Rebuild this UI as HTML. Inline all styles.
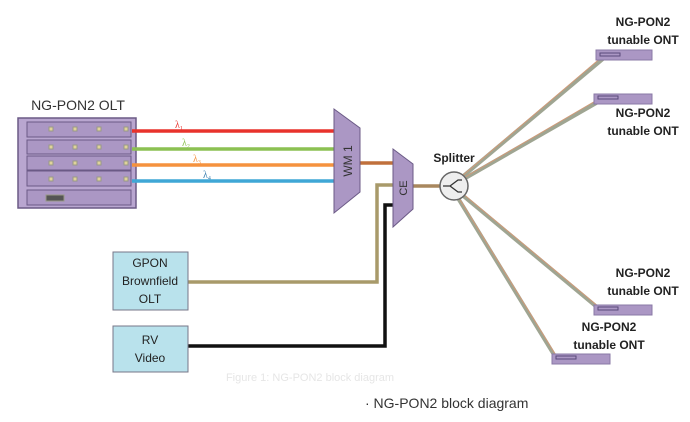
<!DOCTYPE html>
<html><head><style>
body{margin:0;background:#fff;}
svg{display:block;font-family:"Liberation Sans",sans-serif;}
</style></head><body>
<svg width="690" height="422" viewBox="0 0 690 422">
<text x="78" y="110" font-size="14" text-anchor="middle" fill="#333">NG-PON2 OLT</text>
<rect x="18" y="118" width="118" height="90" fill="#b9a6d0" stroke="#6b5a86" stroke-width="1.5"/>
<g fill="#ab97c4" stroke="#6b5a86">
<rect x="27" y="122" width="104" height="15"/>
<rect x="27" y="140" width="104" height="14"/>
<rect x="27" y="156" width="104" height="14"/>
<rect x="27" y="171" width="104" height="15"/>
<rect x="27" y="190" width="104" height="15"/>
</g>
<g fill="#e0d39a" stroke="#998">
<rect x="49" y="127" width="4" height="4"/><rect x="73" y="127" width="4" height="4"/><rect x="97" y="127" width="4" height="4"/><rect x="124" y="127" width="4" height="4"/>
<rect x="49" y="145" width="4" height="4"/><rect x="73" y="145" width="4" height="4"/><rect x="97" y="145" width="4" height="4"/><rect x="124" y="145" width="4" height="4"/>
<rect x="49" y="161" width="4" height="4"/><rect x="73" y="161" width="4" height="4"/><rect x="97" y="161" width="4" height="4"/><rect x="124" y="161" width="4" height="4"/>
<rect x="49" y="177" width="4" height="4"/><rect x="73" y="177" width="4" height="4"/><rect x="97" y="177" width="4" height="4"/><rect x="124" y="177" width="4" height="4"/>
<rect x="46" y="195" width="18" height="6" fill="#555"/>
</g>
<g stroke-width="3.5">
<line x1="132" y1="131" x2="334" y2="131" stroke="#e8322c"/>
<line x1="132" y1="149" x2="334" y2="149" stroke="#8cc152"/>
<line x1="132" y1="165" x2="334" y2="165" stroke="#f5923e"/>
<line x1="132" y1="181" x2="334" y2="181" stroke="#3fa7d6"/>
</g>
<g font-size="10" font-family="Liberation Serif,serif">
<text x="175" y="128" fill="#e8322c">λ<tspan font-size="6" dy="2">1</tspan></text>
<text x="182" y="146" fill="#8cc152">λ<tspan font-size="6" dy="2">2</tspan></text>
<text x="193" y="162" fill="#f5923e">λ<tspan font-size="6" dy="2">3</tspan></text>
<text x="203" y="178" fill="#3a7fb0">λ<tspan font-size="6" dy="2">4</tspan></text>
</g>
<line x1="360" y1="163" x2="394" y2="163" stroke="#c0703c" stroke-width="3.5"/>
<polyline points="188,282 377,282 377,185 394,185" fill="none" stroke="#a89a6a" stroke-width="3.5"/>
<polyline points="188,346 385,346 385,205 394,205" fill="none" stroke="#111" stroke-width="3.5"/>
<line x1="413" y1="186" x2="441" y2="186" stroke="#a8875e" stroke-width="3.5"/>
<polygon points="334,109 360,128 360,192 334,213" fill="#ab97c4" stroke="#6b5a86"/>
<text transform="translate(352,161) rotate(-90)" font-size="12" text-anchor="middle" fill="#333">WM 1</text>
<polygon points="393,149 413,164 413,209 393,227" fill="#ab97c4" stroke="#6b5a86"/>
<text transform="translate(407,188) rotate(-90)" font-size="11" text-anchor="middle" fill="#333">CE</text>
<g stroke="#9fa592" stroke-width="4" fill="none">
<line x1="455" y1="183" x2="604" y2="58"/>
<line x1="455" y1="184" x2="598" y2="102"/>
<line x1="455" y1="189" x2="598" y2="308"/>
<line x1="453" y1="190" x2="556" y2="358"/>
</g>
<g stroke="#d09a78" stroke-width="1" fill="none">
<line x1="455" y1="182" x2="603" y2="56"/>
<line x1="455" y1="183" x2="597" y2="100"/>
<line x1="456" y1="188" x2="599" y2="307"/>
<line x1="454" y1="190" x2="557" y2="357"/>
</g>
<circle cx="454" cy="186" r="14" fill="#eeeeee" stroke="#666" stroke-width="1.5"/>
<path d="M443,186 H450 L458,180 H462 M450,186 L458,192 H462" fill="none" stroke="#333" stroke-width="1.3"/>
<text x="454" y="162" font-size="12" font-weight="bold" text-anchor="middle" fill="#222">Splitter</text>
<g fill="#ab97c4" stroke="#8a78a6">
<rect x="596" y="50" width="56" height="10"/>
<rect x="594" y="94" width="58" height="10"/>
<rect x="594" y="305" width="58" height="10"/>
<rect x="552" y="354" width="58" height="10"/>
</g>
<g fill="none" stroke="#5a4a7a">
<rect x="600" y="53" width="20" height="3"/>
<rect x="598" y="96" width="20" height="3"/>
<rect x="598" y="307" width="20" height="3"/>
<rect x="556" y="356" width="20" height="3"/>
</g>
<g font-size="12" font-weight="bold" text-anchor="middle" fill="#222">
<text x="643" y="26">NG-PON2</text><text x="643" y="44">tunable ONT</text>
<text x="643" y="117">NG-PON2</text><text x="643" y="135">tunable ONT</text>
<text x="643" y="277">NG-PON2</text><text x="643" y="295">tunable ONT</text>
<text x="609" y="331">NG-PON2</text><text x="609" y="349">tunable ONT</text>
</g>
<rect x="113" y="252" width="75" height="58" fill="#b9e2ec" stroke="#778"/>
<rect x="113" y="326" width="75" height="46" fill="#b9e2ec" stroke="#778"/>
<g font-size="12" text-anchor="middle" fill="#222">
<text x="150" y="267">GPON</text><text x="150" y="285">Brownfield</text><text x="150" y="303">OLT</text>
<text x="150" y="344">RV</text><text x="150" y="362">Video</text>
</g>
<text x="310" y="381" font-size="11" fill="#e6e6e6" text-anchor="middle">Figure 1: NG-PON2 block diagram</text>
<text x="365" y="408" font-size="14" fill="#333">· NG-PON2 block diagram</text>
</svg>
</body></html>
